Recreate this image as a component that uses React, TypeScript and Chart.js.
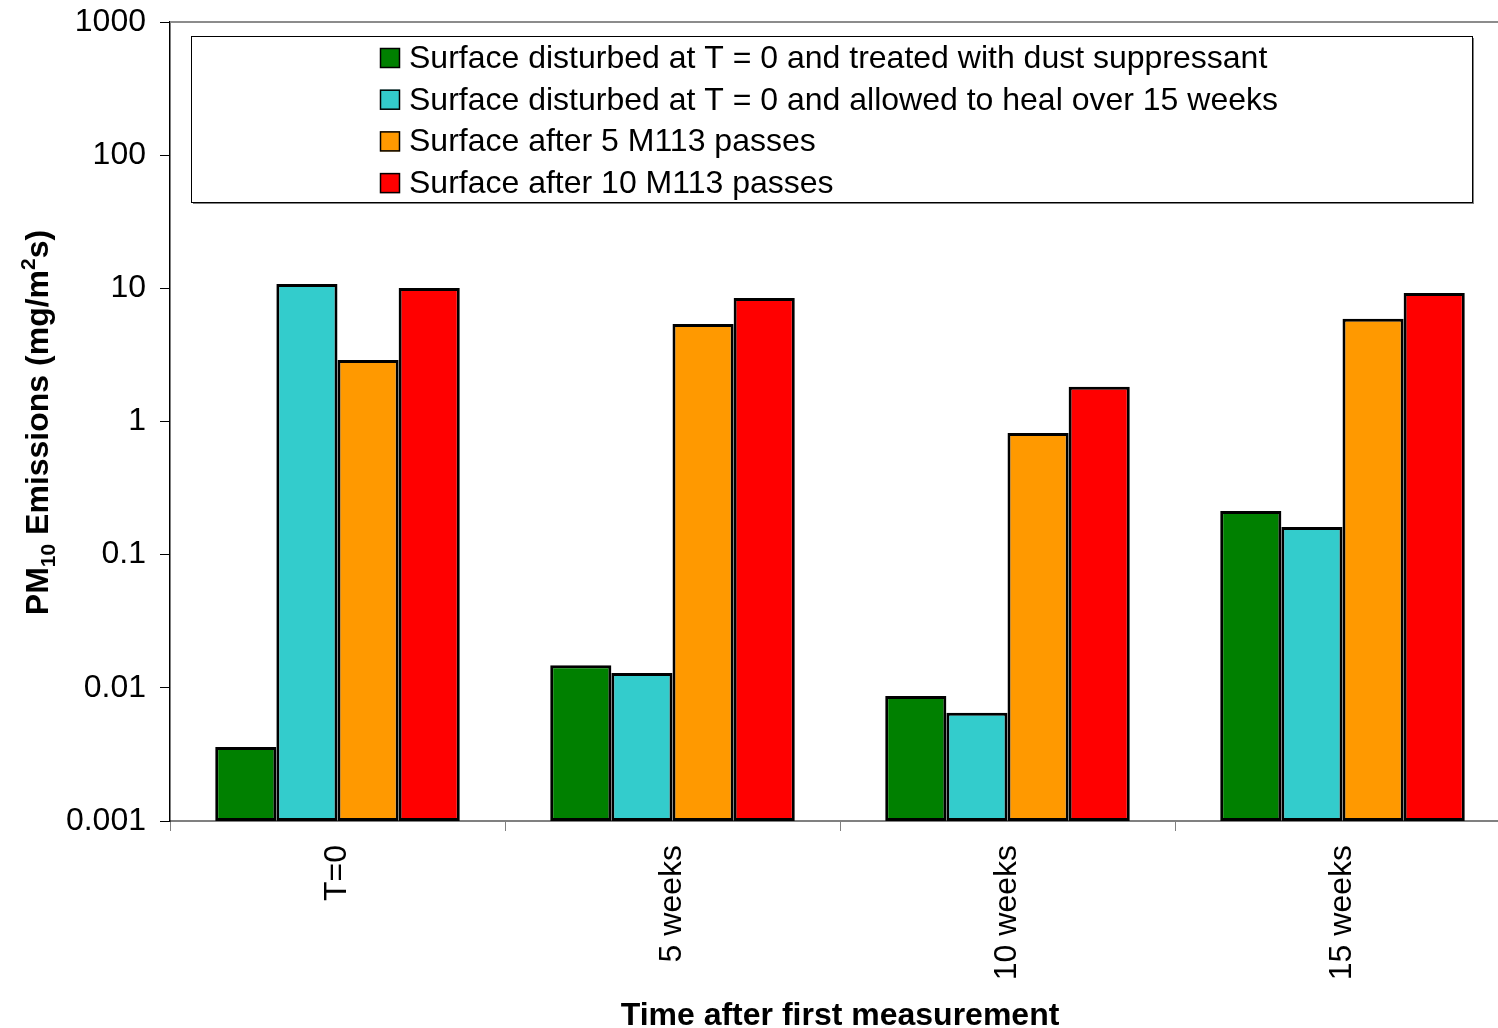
import React, { useEffect, useRef } from "react";
import { Chart, registerables } from "chart.js";

Chart.register(...registerables);

const CATEGORIES = ["T=0", "5 weeks", "10 weeks", "15 weeks"];
const SERIES_LABELS = [
  "Surface disturbed at T = 0 and treated with dust suppressant",
  "Surface disturbed at T = 0 and allowed to heal over 15 weeks",
  "Surface after 5 M113 passes",
  "Surface after 10 M113 passes",
];
const SERIES_COLORS = ["#008000", "#33CCCC", "#FF9900", "#FF0000"];
const TREATED = [0.0036, 0.0148, 0.0087, 0.213];
const HEALED = [10.8, 0.0129, 0.0065, 0.161];
const PASSES_5 = [2.9, 5.4, 0.82, 5.9];
const PASSES_10 = [10.05, 8.46, 1.82, 9.22];
const Y_TICKS = [0.001, 0.01, 0.1, 1, 10, 100, 1000];

const FONT = '"Liberation Sans", Arial, Helvetica, sans-serif';

const decorPlugin = {
  id: "decor",
  afterDraw(chart: any) {
    const ctx = chart.ctx;
    const area = chart.chartArea;
    ctx.save();
    // top plot border (gray)
    ctx.strokeStyle = "#8c8c8c";
    ctx.lineWidth = 2;
    ctx.beginPath();
    ctx.moveTo(area.left, area.top);
    ctx.lineTo(area.right, area.top);
    ctx.stroke();

    // legend box
    const bx = 191, by = 36, bw = 1281, bh = 166;
    ctx.fillStyle = "#808080";
    ctx.fillRect(bx + 2, by + bh, bw, 2);
    ctx.fillRect(bx + bw, by + 2, 2, bh);
    ctx.fillStyle = "#ffffff";
    ctx.fillRect(bx, by, bw, bh);
    ctx.strokeStyle = "#000000";
    ctx.lineWidth = 1;
    ctx.strokeRect(bx + 0.5, by + 0.5, bw, bh);

    ctx.font = `32px ${FONT}`;
    ctx.textAlign = "left";
    ctx.textBaseline = "alphabetic";
    chart.data.datasets.forEach((ds: any, i: number) => {
      const base = 68 + i * 41.7;
      ctx.fillStyle = ds.backgroundColor;
      ctx.fillRect(380, base - 20, 20, 20);
      ctx.strokeStyle = "#000";
      ctx.lineWidth = 1.5;
      ctx.strokeRect(380.5, base - 19.5, 19, 19);
      ctx.fillStyle = "#000";
      ctx.fillText(ds.label, 409, base);
    });

    // x axis title
    ctx.font = `bold 32px ${FONT}`;
    ctx.textAlign = "center";
    ctx.fillStyle = "#000";
    ctx.fillText("Time after first measurement", (area.left + area.right) / 2, 1025);

    // y axis title with sub/superscripts
    const parts: [string, number, number][] = [
      ["PM", 32, 0],
      ["10", 21, 7],
      [" Emissions (mg/m", 32, 0],
      ["2", 21, -13],
      ["s)", 32, 0],
    ];
    let total = 0;
    parts.forEach(([t, s]) => {
      ctx.font = `bold ${s}px ${FONT}`;
      total += ctx.measureText(t).width;
    });
    ctx.translate(48, (area.top + area.bottom) / 2 + 1);
    ctx.rotate(-Math.PI / 2);
    ctx.textAlign = "left";
    let x = -total / 2;
    parts.forEach(([t, s, dy]) => {
      ctx.font = `bold ${s}px ${FONT}`;
      ctx.fillText(t, x, dy);
      x += ctx.measureText(t).width;
    });
    ctx.restore();
  },
};

export default function App() {
  const ref = useRef<HTMLCanvasElement | null>(null);
  useEffect(() => {
    if (!ref.current) return;
    const datasets = [TREATED, HEALED, PASSES_5, PASSES_10].map((d, i) => ({
      label: SERIES_LABELS[i],
      data: d,
      backgroundColor: SERIES_COLORS[i],
      borderColor: "#000000",
      borderWidth: 3,
      borderSkipped: false,
      categoryPercentage: 0.73,
      barPercentage: 1,
    }));
    const chart = new Chart(ref.current, {
      type: "bar",
      data: { labels: CATEGORIES, datasets },
      options: {
        animation: false,
        responsive: false,
        devicePixelRatio: 1,
        layout: { padding: { top: 22, right: 10, left: 0, bottom: 0 } },
        plugins: { legend: { display: false }, tooltip: { enabled: false } },
        scales: {
          x: {
            type: "category",
            offset: true,
            grid: {
              offset: true,
              drawOnChartArea: false,
              tickLength: 10,
              color: "#808080",
            },
            border: { display: true, color: "#808080", width: 2 },
            ticks: {
              color: "#000",
              font: { size: 32, family: FONT },
              minRotation: 90,
              maxRotation: 90,
              padding: 14,
            },
            afterFit(scale: any) {
              scale.height = 207;
              scale.paddingLeft = 0;
              scale.paddingRight = 0;
            },
          },
          y: {
            type: "logarithmic",
            min: 0.001,
            max: 1000,
            grid: { drawOnChartArea: false, tickLength: 10, color: "#000" },
            border: { display: true, color: "#000", width: 1.5 },
            afterBuildTicks(scale: any) {
              scale.ticks = Y_TICKS.map((v) => ({ value: v }));
            },
            ticks: {
              color: "#000",
              font: { size: 32, family: FONT },
              padding: 14,
              callback: (v: any) => String(v),
            },
            afterFit(scale: any) {
              scale.width = 170;
              scale.paddingTop = 0;
              scale.paddingBottom = 0;
            },
          },
        },
      },
      plugins: [decorPlugin],
    });
    return () => chart.destroy();
  }, []);
  return (
    <div
      style={{
        position: "absolute",
        left: 0,
        top: 0,
        width: 1498,
        height: 1028,
        overflow: "hidden",
        background: "#fff",
      }}
    >
      <canvas ref={ref} width={1520} height={1028} style={{ width: 1520, height: 1028, display: "block" }} />
    </div>
  );
}
